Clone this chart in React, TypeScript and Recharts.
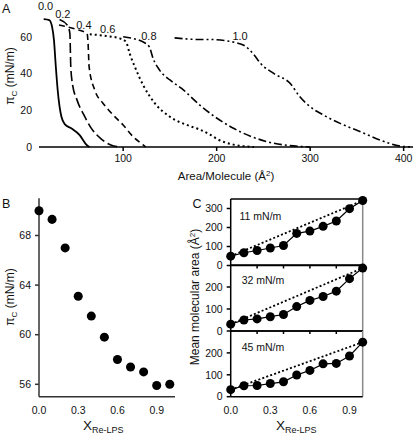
import React from 'react';
import {
  LineChart,
  Line,
  XAxis,
  YAxis,
  ReferenceDot,
  ReferenceLine,
  ScatterChart,
  Scatter,
} from 'recharts';

const FONT = '"Liberation Sans", Arial, Helvetica, sans-serif';

// Panel A: surface pressure isotherms (area in Å², pressure in mN/m)
const area00 = [15, 21, 24, 26, 28, 30, 32, 34, 37.5, 44.5, 53.5, 61, 64];
const pi00 = [69.8, 69.3, 65.6, 58.4, 43.8, 31, 22, 16.5, 12.5, 10.2, 6.5, 1.1, 0];
const area02 = [32, 41, 43, 44, 45.7, 50.7, 58, 66, 77, 89, 98];
const pi02 = [69.6, 66, 62, 43.8, 34.7, 25.6, 17.5, 10.2, 4.2, 0.7, 0];
const area04 = [31.4, 50, 61.4, 62.5, 63.6, 69.6, 78.6, 89.3, 100, 110.7, 121.4, 124];
const pi04 = [66.6, 64.2, 62, 56.6, 43.8, 31.1, 23.8, 17.5, 12, 5.6, 1.1, 0];
const area06 = [64.3, 82, 96.4, 103, 107, 112.5, 121.4, 134, 150, 171, 182, 193, 200, 218, 240];
const pi06 = [61.6, 60.6, 59.3, 57.5, 51, 43.8, 33.8, 23.8, 16.5, 11.5, 9.5, 6.8, 4.5, 1.3, 0];
const area08 = [100, 123, 128, 132, 139, 150, 162.5, 182, 193, 218, 254, 289, 300];
const pi08 = [60.2, 56.9, 54.7, 48.4, 42, 36.6, 32, 22.9, 18.4, 10.2, 2.9, 0.3, 0];
const area10 = [155, 182, 193, 221, 229, 239, 247, 261, 279, 289, 300, 314, 332, 354, 375, 396, 410];
const pi10 = [59.6, 58.7, 58.7, 56.9, 55.6, 51, 45.6, 40.2, 34.5, 27.4, 22, 17.5, 12.9, 8.3, 3.8, 0.5, 0];

const isoLabels = ['0.0', '0.2', '0.4', '0.6', '0.8', '1.0'];
const isoLabelArea = [17, 35.5, 58, 83.5, 127.5, 225];
const isoLabelPi = [77, 72.4, 66.8, 64.4, 60.8, 60.8];

// Panel B: collapse pressure vs Re-LPS fraction
const fractions = [0, 0.1, 0.2, 0.3, 0.4, 0.5, 0.6, 0.7, 0.8, 0.9, 1.0];
const collapsePi = [70.0, 69.3, 67.0, 63.1, 61.5, 59.8, 58.0, 57.4, 57.0, 55.9, 56.0];

// Panel C: mean molecular area at three pressures
const area11 = [49, 67, 79, 92, 105, 169, 181, 206, 234, 299, 342];
const area32 = [31, 50, 55, 65, 75, 111, 139, 157, 181, 238, 286];
const area45 = [32, 50, 51, 60, 68, 99, 120, 150, 152, 186, 249];

const toPts = (xs: number[], ys: number[]) => xs.map((x, i) => ({ x, y: ys[i] }));

const isoSeries = [
  { data: toPts(area00, pi00), dash: undefined, width: 1.8 },
  { data: toPts(area02, pi02), dash: '10 4', width: 1.6 },
  { data: toPts(area04, pi04), dash: '6 4', width: 1.6 },
  { data: toPts(area06, pi06), dash: '2 3', width: 2 },
  { data: toPts(area08, pi08), dash: '8 3 2 3', width: 1.6 },
  { data: toPts(area10, pi10), dash: '8 3 2 3 2 3', width: 1.6 },
];

const tickStyle = { fill: '#111', fontSize: 10.5, fontFamily: FONT };

function PanelA() {
  return (
    <LineChart width={415} height={190} margin={{ top: 6, right: 2, bottom: 0, left: 9 }}>
      <XAxis
        dataKey="x"
        type="number"
        domain={[10, 410]}
        ticks={[100, 200, 300, 400]}
        allowDataOverflow
        height={43}
        stroke="#000"
        strokeWidth={1.5}
        tickSize={4}
        tickMargin={4}
        tick={tickStyle}
      />
      <YAxis
        dataKey="y"
        type="number"
        domain={[0, 77]}
        ticks={[0, 20, 40, 60]}
        width={30}
        axisLine={false}
        tickLine={false}
        tickSize={5}
        tickMargin={2}
        tick={tickStyle}
      />
      {isoSeries.map((s, i) => (
        <Line
          key={i}
          data={s.data}
          dataKey="y"
          type="monotone"
          stroke="#000"
          strokeWidth={s.width}
          strokeDasharray={s.dash}
          dot={false}
          isAnimationActive={false}
        />
      ))}
      {isoLabels.map((t, i) => (
        <ReferenceDot
          key={t}
          x={isoLabelArea[i]}
          y={isoLabelPi[i]}
          r={0}
          fill="none"
          stroke="none"
          ifOverflow="visible"
          label={{ value: t, position: 'center', fill: '#111', fontSize: 11, fontFamily: FONT }}
        />
      ))}
    </LineChart>
  );
}

function PanelB() {
  return (
    <ScatterChart width={180} height={242} margin={{ top: 6.3, right: 5, bottom: 0, left: 9 }}>
      <XAxis
        dataKey="x"
        type="number"
        domain={[0, 1.04]}
        ticks={[0, 0.3, 0.6, 0.9]}
        tickFormatter={(v: number) => v.toFixed(1)}
        height={37.3}
        stroke="#333"
        strokeWidth={1.5}
        tickLine={false}
        tickSize={4}
        tickMargin={6}
        tick={tickStyle}
      />
      <YAxis
        dataKey="y"
        type="number"
        domain={[55, 71]}
        ticks={[56, 60, 64, 68]}
        width={30}
        stroke="#333"
        strokeWidth={1.5}
        tickSize={4}
        tickMargin={4}
        tick={tickStyle}
      />
      <Scatter data={toPts(fractions, collapsePi)} fill="#000" isAnimationActive={false} />
    </ScatterChart>
  );
}

function PanelCSub({
  values,
  max,
  ticks,
  height,
  axisHeight,
  bottom,
}: {
  values: number[];
  max: number;
  ticks: number[];
  height: number;
  axisHeight: number;
  bottom: boolean;
}) {
  const ideal = [
    { x: fractions[0], y: values[0] },
    { x: fractions[fractions.length - 1], y: values[values.length - 1] },
  ];
  return (
    <LineChart width={168} height={height} margin={{ top: 6, right: 5.3, bottom: 0, left: 0.7 }}>
      <XAxis
        dataKey="x"
        type="number"
        domain={[0, 1]}
        ticks={bottom ? [0, 0.3, 0.6, 0.9] : [0.2, 0.4, 0.6, 0.8]}
        tickFormatter={(v: number) => (bottom ? v.toFixed(1) : '')}
        height={axisHeight}
        stroke="#000"
        strokeWidth={1.5}
        tickLine={!bottom}
        tickSize={3}
        tickMargin={bottom ? 7 : 0}
        tick={tickStyle}
      />
      <YAxis
        dataKey="y"
        type="number"
        domain={[0, max]}
        ticks={ticks}
        width={30}
        stroke="#000"
        strokeWidth={1.5}
        tickSize={4}
        tickMargin={4}
        tick={tickStyle}
      />
      <ReferenceLine y={max} stroke="#000" strokeWidth={1.5} />
      <ReferenceLine x={1} stroke="#888" strokeWidth={1.5} />
      <Line
        data={ideal}
        dataKey="y"
        stroke="#000"
        strokeWidth={1.8}
        strokeDasharray="2 2.2"
        dot={false}
        isAnimationActive={false}
      />
      <Line
        data={toPts(fractions, values)}
        dataKey="y"
        stroke="#000"
        strokeWidth={1.2}
        dot={{ r: 4.5, fill: '#000', stroke: '#000', strokeWidth: 0 }}
        isAnimationActive={false}
      />
    </LineChart>
  );
}

export default function App() {
  const abs = (left: number, top: number): React.CSSProperties => ({ position: 'absolute', left, top });
  return (
    <div style={{ position: 'absolute', left: 0, top: 0, width: 415, height: 434, background: '#fff', fontFamily: FONT }}>
      <div style={abs(0, 0)}>
        <PanelA />
      </div>
      <div style={abs(0, 192)}>
        <PanelB />
      </div>
      <div style={abs(200, 192.5)}>
        <PanelCSub values={area11} max={350} ticks={[0, 100, 200, 300]} height={78.5} axisHeight={6} bottom={false} />
      </div>
      <div style={abs(200, 259)}>
        <PanelCSub values={area32} max={300} ticks={[0, 100, 200]} height={78} axisHeight={6} bottom={false} />
      </div>
      <div style={abs(200, 325)}>
        <PanelCSub values={area45} max={300} ticks={[0, 100, 200]} height={91.7} axisHeight={20} bottom />
      </div>
      <svg width={415} height={434} style={{ position: 'absolute', left: 0, top: 0, pointerEvents: 'none' }} fontFamily={FONT} fill="#111">
        <text x={2} y={12.5} fontSize={12.5}>A</text>
        <text x={2} y={207.5} fontSize={12.5}>B</text>
        <text x={192.5} y={207.5} fontSize={12.5}>C</text>

        <text x={226} y={180} fontSize={11.5} textAnchor="middle">
          Area/Molecule (Å<tspan dy={-4} fontSize={8}>2</tspan><tspan dy={4}>)</tspan>
        </text>
        <text transform="translate(14,76) rotate(-90)" fontSize={12} textAnchor="middle">
          π<tspan fontSize={8} dy={3}>C</tspan><tspan dy={-3}> (mN/m)</tspan>
        </text>

        <text transform="translate(14,297) rotate(-90)" fontSize={12} textAnchor="middle">
          π<tspan fontSize={8} dy={3}>C</tspan><tspan dy={-3}> (mN/m)</tspan>
        </text>
        <text x={83} y={430} fontSize={13.5}>
          X<tspan fontSize={9} dy={3}>Re-LPS</tspan>
        </text>

        <text transform="translate(199,297) rotate(-90)" fontSize={12} textAnchor="middle">
          Mean molecular area (Å<tspan dy={-4} fontSize={8}>2</tspan><tspan dy={4}>)</tspan>
        </text>
        <text x={276} y={430} fontSize={13.5}>
          X<tspan fontSize={9} dy={3}>Re-LPS</tspan>
        </text>

        <text x={239.5} y={220} fontSize={10.5}>11 mN/m</text>
        <text x={241.7} y={284} fontSize={10.5}>32 mN/m</text>
        <text x={241.7} y={350.5} fontSize={10.5}>45 mN/m</text>
      </svg>
    </div>
  );
}
